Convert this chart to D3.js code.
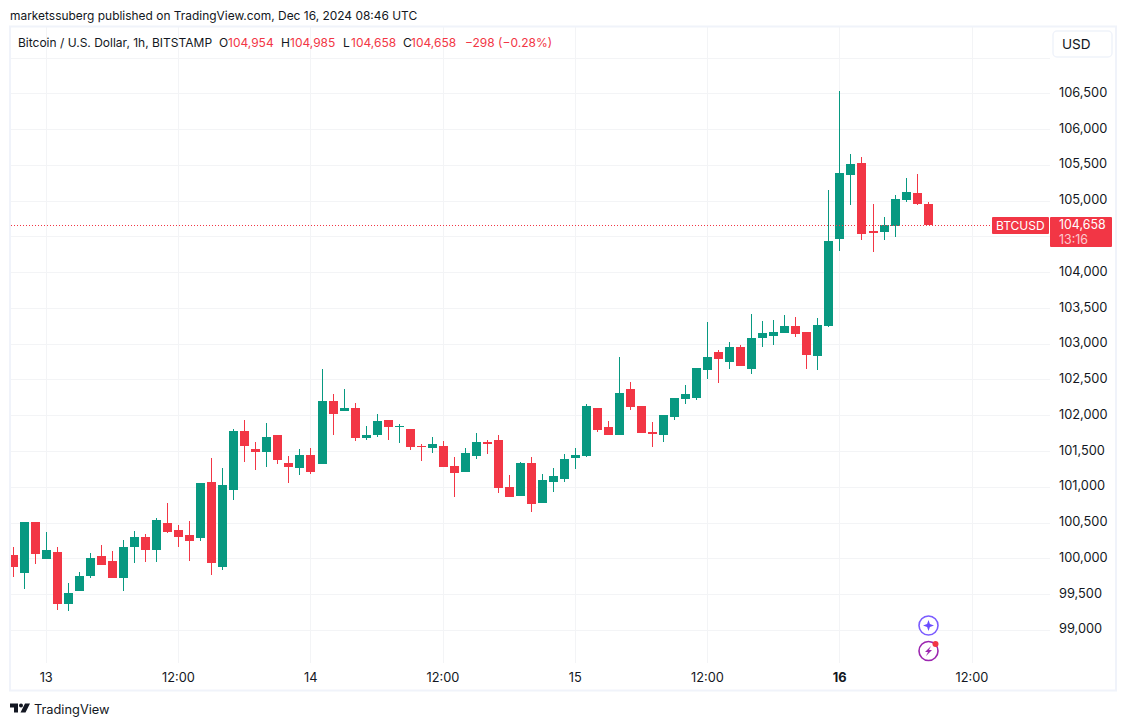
<!DOCTYPE html>
<html>
<head>
<meta charset="utf-8">
<script src="https://cdn.jsdelivr.net/npm/d3@7"></script>
<style>
  html, body { margin: 0; padding: 0; background: #fff; }
  svg { display: block; font-family: Inter, "Noto Sans", sans-serif; }
  .grid line { stroke: #f3f4f6; stroke-width: 1; shape-rendering: crispEdges; }
  .axis text { font-family: Inter, "Noto Sans", sans-serif; font-size: 12.8px; fill: #131722; }
  .axis path, .axis line { display: none; }
</style>
</head>
<body>
<svg id="chart" width="1127" height="726"></svg>
<script>
// hourly candles, first one is Dec 12 21:00 UTC
const firstCandle = Date.UTC(2024, 11, 12, 21);
const opens = [100046, 99799, 100508, 99995, 100088, 99366, 99543, 99757, 100032, 99962, 99729, 100163, 100298, 100121, 100494, 100396, 100326, 100289, 101067, 99883, 100960, 101780, 101529, 101491, 101724, 101333, 101268,
  101444, 101319, 102200, 102060, 102102, 101682, 101724, 101934, 101836, 101808, 101570, 101542, 101570, 101291, 101207, 101430, 101626, 101654, 100997,
  100872, 101333, 100774, 101068, 101110, 101403, 101431, 102103, 101837, 101725, 102368, 102130, 101767, 101725, 101977, 102228, 102242, 102634, 102886, 102746, 102956, 102648, 103082, 103110, 103151,
  103249, 103166, 102830, 103249, 104466, 105361, 105529, 104578, 104564, 104648, 105012, 105110, 104954];
const highs = [100158, 100510, 100510, 100368, 100158, 99655, 99808, 100074, 100186, 100102, 100256, 100382, 100340, 100564, 100773, 100466, 100522, 101053, 101403, 101263, 101808, 101934, 101627, 101892, 101724, 101431, 101529,
  101542, 102647, 102298, 102368, 102172, 101850, 102018, 101934, 101878, 101808, 101598, 101696, 101640, 101416, 101542, 101752, 101654, 101724, 101165,
  101347, 101417, 101179, 101263, 101459, 101543, 102158, 102103, 101921, 102816, 102466, 102130, 101907, 102005, 102242, 102424, 102662, 103305, 102914, 103026, 102984, 103417, 103319, 103333, 103403,
  103375, 103166, 103361, 105152, 106536, 105655, 105613, 104956, 104774, 105082, 105319, 105375, 104985];
const lows = [99743, 99575, 99925, 99995, 99282, 99268, 99543, 99729, 99911, 99729, 99547, 99939, 99953, 99953, 100354, 100163, 99967, 100247, 99771, 99841, 100820, 101352, 101240, 101282, 101324, 101058, 101170,
  101179, 101319, 101724, 102060, 101640, 101654, 101696, 101654, 101612, 101514, 101361, 101472, 101277, 100857, 101207, 101389, 101458, 100913, 100857,
  100872, 100648, 100774, 100928, 101068, 101249, 101417, 101767, 101725, 101725, 102075, 101753, 101557, 101627, 101935, 102158, 102214, 102508, 102452, 102648, 102690, 102578, 102956, 102984, 103151,
  103096, 102648, 102634, 103235, 104298, 104942, 104452, 104284, 104452, 104494, 104984, 104942, 104658];
const closes = [99883, 100508, 100065, 100116, 99366, 99515, 99752, 100004, 99911, 99729, 100158, 100298, 100121, 100536, 100373, 100303, 100247, 101053, 99939, 101025, 101780, 101575, 101491, 101697, 101380, 101282, 101445,
  101207, 102200, 102018, 102102, 101682, 101724, 101920, 101836, 101850, 101556, 101556, 101598, 101277, 101193, 101472, 101626, 101598, 100983, 100857,
  101333, 100760, 101096, 101151, 101389, 101445, 102130, 101795, 101725, 102312, 102116, 101753, 101739, 102005, 102242, 102298, 102662, 102816, 102788, 102956, 102690, 103082, 103151, 103165, 103249,
  103138, 102844, 103263, 104438, 105389, 105515, 104536, 104550, 104662, 105026, 105124, 104956, 104658];

const gridPrices = [99000, 99500, 100000, 100500, 101000, 101500, 102000, 102500, 103000, 103500, 104000, 104500, 105000, 105500, 106000, 106500, 107000];
// 104,500 sits under the last price label, 107,000 under the USD button
const priceTicks = gridPrices.filter(d => d !== 104500 && d !== 107000);
const timeTicks = [Date.UTC(2024, 11, 13), Date.UTC(2024, 11, 13, 12), Date.UTC(2024, 11, 14), Date.UTC(2024, 11, 14, 12),
  Date.UTC(2024, 11, 15), Date.UTC(2024, 11, 15, 12), Date.UTC(2024, 11, 16), Date.UTC(2024, 11, 16, 12)];
const timeLabels = ['13', '12:00', '14', '12:00', '15', '12:00', '16', '12:00'];
const legendItems = ['O', '104,954', 'H', '104,985', 'L', '104,658', 'C', '104,658', '−298 (−0.28%)'];
const lastPrice = 104658;

const UP = '#089981', DOWN = '#f23645', TEXT = '#131722', FRAME = '#f0f3fa';
const plot = { left: 11, right: 1050, top: 27, bottom: 663 };

const svg = d3.select('#chart');

const x = d3.scaleUtc().domain([timeTicks[0], timeTicks[7]]).range([46.5, 972.2]);
const y = d3.scaleLinear().domain([99000, 106500]).range([629.8, 93.3]);

const candles = opens.map((o, i) => ({
  t: firstCandle + i * 3600000, o, h: highs[i], l: lows[i], c: closes[i]
}));

svg.append('defs').append('clipPath').attr('id', 'plot-clip')
  .append('rect')
  .attr('x', plot.left).attr('y', plot.top)
  .attr('width', plot.right - plot.left).attr('height', plot.bottom - plot.top);

// grid
const grid = svg.append('g').attr('class', 'grid');
grid.selectAll('.h').data(gridPrices).join('line')
  .attr('class', 'h')
  .attr('x1', plot.left).attr('x2', plot.right)
  .attr('y1', d => Math.round(y(d))).attr('y2', d => Math.round(y(d)));
grid.selectAll('.v').data(timeTicks).join('line')
  .attr('class', 'v')
  .attr('x1', d => Math.floor(x(d))).attr('x2', d => Math.floor(x(d)))
  .attr('y1', plot.top).attr('y2', plot.bottom);

// candles
const candleG = svg.append('g').attr('clip-path', 'url(#plot-clip)').attr('shape-rendering', 'crispEdges');
const color = d => d.c >= d.o ? UP : DOWN;

candleG.selectAll('.wick').data(candles).join('rect')
  .attr('class', 'wick')
  .attr('x', d => Math.floor(x(d.t)))
  .attr('width', 1)
  .attr('y', d => y(d.h))
  .attr('height', d => y(d.l) - y(d.h))
  .attr('fill', color);

candleG.selectAll('.body').data(candles).join('rect')
  .attr('class', 'body')
  .attr('x', d => Math.floor(x(d.t)) - 4)
  .attr('width', 9)
  .attr('y', d => y(Math.max(d.o, d.c)))
  .attr('height', d => Math.max(1, Math.abs(y(d.o) - y(d.c))))
  .attr('fill', color);

// last price line
svg.append('line')
  .attr('x1', plot.left).attr('x2', 992)
  .attr('y1', Math.round(y(lastPrice)) + 0.5).attr('y2', Math.round(y(lastPrice)) + 0.5)
  .attr('stroke', DOWN).attr('stroke-width', 1).attr('stroke-dasharray', '1 2');

// frame
svg.append('rect')
  .attr('x', 10).attr('y', 26.5).attr('width', 1106).attr('height', 664)
  .attr('fill', 'none').attr('stroke', FRAME).attr('stroke-width', 2);

// axes
svg.append('g').attr('class', 'axis')
  .attr('transform', 'translate(1059,-1)')
  .call(d3.axisRight(y).tickValues(priceTicks).tickSize(0).tickPadding(0).tickFormat(d3.format(',')));

const xAxisG = svg.append('g').attr('class', 'axis')
  .attr('transform', 'translate(-0.8,673)')
  .call(d3.axisBottom(x).tickValues(timeTicks).tickSize(0).tickPadding(0).tickFormat((d, i) => timeLabels[i]));
xAxisG.selectAll('text').style('font-weight', (d, i) => timeLabels[i] === '16' ? 700 : 400);

// header
svg.append('text').attr('x', 10).attr('y', 20)
  .attr('font-size', 11.95).attr('fill', TEXT)
  .text('marketssuberg published on TradingView.com, Dec 16, 2024 08:46 UTC');

svg.append('text').attr('x', 18).attr('y', 47)
  .attr('font-size', 12).attr('fill', TEXT)
  .text('Bitcoin / U.S. Dollar, 1h, BITSTAMP');

const legendX = [219, 228, 281, 290, 343, 351, 403, 411, 465];
svg.append('g').selectAll('text').data(legendItems).join('text')
  .attr('x', (d, i) => legendX[i]).attr('y', 47)
  .attr('font-size', 12)
  .attr('fill', (d, i) => i < 8 && i % 2 === 0 ? TEXT : DOWN)
  .text(d => d);

// currency button
svg.append('rect')
  .attr('x', 1053).attr('y', 31).attr('width', 59).attr('height', 26).attr('rx', 4)
  .attr('fill', '#fff').attr('stroke', FRAME).attr('stroke-width', 1.5);
svg.append('text').attr('x', 1062).attr('y', 49)
  .attr('font-size', 13.6).attr('fill', TEXT).text('USD');

// last price labels
svg.append('rect').attr('x', 992).attr('y', 217).attr('width', 57).attr('height', 17).attr('rx', 1).attr('fill', DOWN);
svg.append('text').attr('x', 996).attr('y', 230).attr('font-size', 12).attr('fill', '#fff').text('BTCUSD');
svg.append('rect').attr('x', 1050).attr('y', 217).attr('width', 62).attr('height', 30).attr('rx', 1).attr('fill', DOWN);
svg.append('text').attr('x', 1059).attr('y', 229).attr('font-size', 12.4).attr('fill', '#fff').text(d3.format(',')(lastPrice));
svg.append('text').attr('x', 1059).attr('y', 244).attr('font-size', 12.4).attr('fill', '#fff').attr('fill-opacity', 0.75).text('13:16');

// small badges
const star = svg.append('g').attr('transform', 'translate(928.5,625.5)');
star.append('circle').attr('r', 9.5).attr('fill', '#fff').attr('stroke', '#7b5cff').attr('stroke-width', 1.6);
star.append('path').attr('d', 'M0,-5.5 L1.4,-1.4 L5.5,0 L1.4,1.4 L0,5.5 L-1.4,1.4 L-5.5,0 L-1.4,-1.4 Z').attr('fill', '#6a4dff');

const bolt = svg.append('g').attr('transform', 'translate(928.5,651)');
bolt.append('circle').attr('r', 9.5).attr('fill', '#fff').attr('stroke', '#9c27b0').attr('stroke-width', 1.6);
bolt.append('path').attr('d', 'M2.5,-5 L-3.5,1 L-0.5,1 L-2.5,5 L3.5,-1 L0.5,-1 Z').attr('fill', '#9c27b0');
bolt.append('circle').attr('cx', 7).attr('cy', -7).attr('r', 3).attr('fill', DOWN);

// logo
const logo = svg.append('g').attr('transform', 'translate(10,703.5)').attr('fill', TEXT);
logo.append('path').attr('d', 'M0,0 H8 V9 H4 V4 H0 Z');
logo.append('circle').attr('cx', 11).attr('cy', 2).attr('r', 2);
logo.append('path').attr('d', 'M15,0 H20 L15.5,9 H10.5 Z');
svg.append('text').attr('x', 34).attr('y', 714).attr('font-size', 12.8).attr('fill', TEXT).text('TradingView');
</script>
</body>
</html>
